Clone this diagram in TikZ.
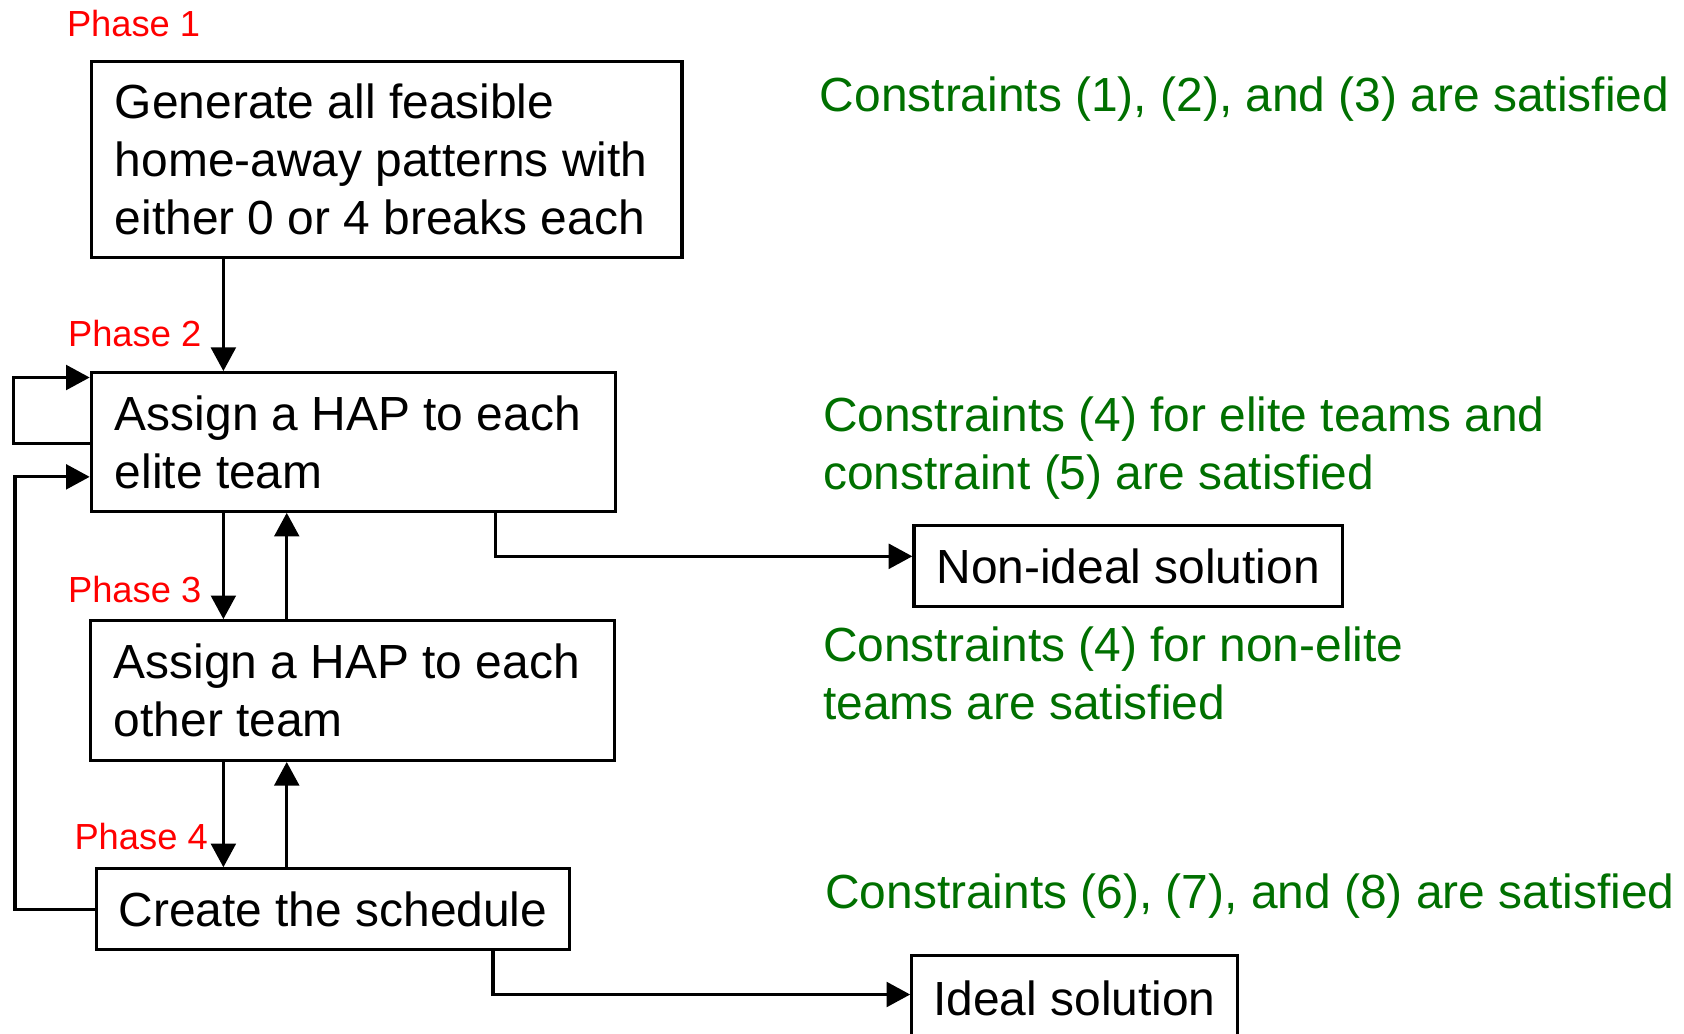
\documentclass[tikz,border=0pt]{standalone}
\usepackage{fontspec}
\setmainfont{Liberation Sans}
\usetikzlibrary{arrows.meta,calc}
\definecolor{cgreen}{RGB}{0,112,0}
\definecolor{cred}{RGB}{255,0,0}
\newcommand\nsp{\spaceskip=0pt\xspaceskip=0pt\relax}
\begin{document}
\begin{tikzpicture}[x=0.5pt,y=-0.5pt,
  every node/.style={font=\fontsize{22.3}{27}\selectfont},
  line/.style={line width=1.5pt,line cap=rect,line join=miter},
  arr/.style={line, -{Triangle[length=11pt,width=11.5pt]}},
  box/.style={draw,line width=1.5pt,inner ysep=0pt,align=flush left},
  phase/.style={anchor=west,text=cred,inner sep=0pt,font=\fontsize{16.9}{20}\selectfont},
  cons/.style={anchor=west,text=cgreen,inner sep=0pt,align=left}]
\useasboundingbox (0,0) rectangle (1568,962);
\begin{scope}
\clip (0,0) rectangle (1568,962);
% boxes
\node[box,minimum width=275pt,minimum height=91.5pt,text width=253pt,inner xsep=11pt] (b1) at (360,148.5)
  {\nsp Generate all feasible\\home-away patterns with\\either 0 or 4 breaks each};
\node[box,minimum width=244pt,minimum height=64.5pt,text width=222pt,inner xsep=11pt] (b2) at (329,411.5)
  {\nsp Assign a HAP to each\\elite team};
\node[box,minimum width=244pt,minimum height=65pt,text width=222pt,inner xsep=11pt] (b3) at (328,643)
  {\nsp Assign a HAP to each\\other team};
\node[box,minimum width=220pt,minimum height=37.5pt,align=center] (b4) at (310,846.5)
  {Create the schedule};
\node[box,minimum width=199.5pt,minimum height=38pt,align=center] (ni) at (1050.5,527) {Non-ideal solution};
\node[box,minimum width=151.5pt,minimum height=40pt,align=center] (id) at (1000.5,930) {Ideal solution};
% phase labels
\node[phase] (p1) at (62,22) {Phase 1};
\node[phase] (p2) at (63,311) {Phase 2};
\node[phase] (p3) at (63,549) {Phase 3};
\node[phase] (p4) at (69,779) {Phase 4};
% constraints
\node[cons] (c1) at (763,92) {Constraints (1), (2), and (3) are satisfied};
\node[cons] (c2) at (766,417.5) {Constraints (4) for elite teams and\\constraint (5) are satisfied};
\node[cons] (c3) at (766,627) {Constraints (4) for non-elite\\teams are satisfied};
\node[cons] (c4) at (768,834) {Constraints (6), (7), and (8) are satisfied};
% helper coordinates
\coordinate (xa) at (208,0);
\coordinate (xb) at (267,0);
\coordinate (xn) at (461,0);
\coordinate (xi) at (459,0);
\coordinate (lc) at (14,444);
% connectors
\draw[arr] (b1.south -| xa) -- (b2.north -| xa);
\draw[arr] (b2.south -| xa) -- (b3.north -| xa);
\draw[arr] (b3.north -| xb) -- (b2.south -| xb);
\draw[arr] (b3.south -| xa) -- (b4.north -| xa);
\draw[arr] (b4.north -| xb) -- (b3.south -| xb);
\draw[arr] ($(b2.west)+(0,1.5)$) -- ++(-71,0) |- ($(b2.north west)+(0,6)$);
\draw[arr] (b4.west) -| (lc) -- ($(b2.west)+(0,32.5)$);
\draw[arr] (b2.south -| xn) |- ($(ni.west)+(0,-9)$);
\draw[arr] (b4.south -| xi) |- ($(id.west)+(0,-4)$);
\end{scope}
\end{tikzpicture}
\end{document}
